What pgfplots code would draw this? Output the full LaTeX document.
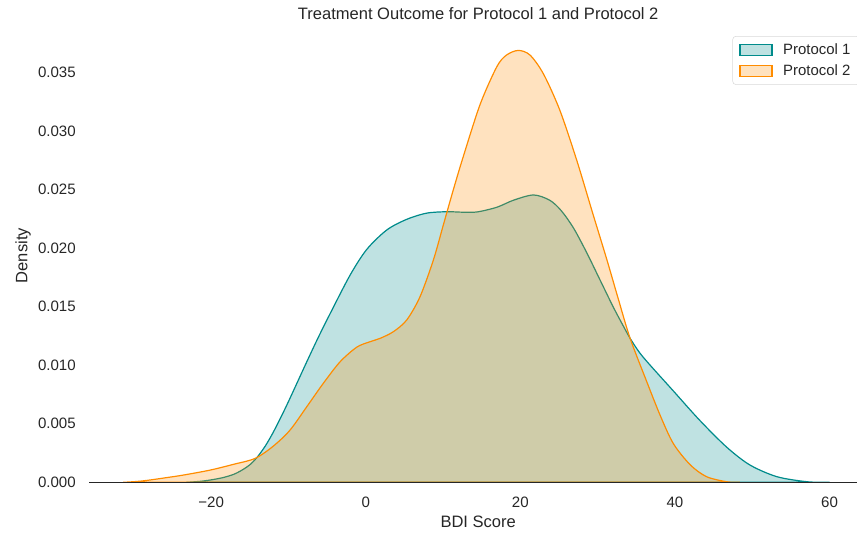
\documentclass[border=0pt]{standalone}
\usepackage{fontspec}
\setmainfont{Liberation Sans}
\usepackage{pgfplots}
\pgfplotsset{compat=1.18}
\definecolor{pteal}{HTML}{008B8B}
\definecolor{porange}{HTML}{FF8C00}
\definecolor{txt}{HTML}{262626}

\pgfplotstableread{
x y
-23.2 0
-21.5 0.00008
-20.1 0.0002
-18.5 0.0004
-17.1 0.00068
-16.0 0.00105
-15.0 0.0015
-14.1 0.0021
-13.0 0.0031
-11.95 0.0043
-10.8 0.0058
-9.79 0.0072
-7.63 0.0103
-6.13 0.0124
-4.62 0.0144
-2.03 0.0177
0.13 0.0199
2.72 0.02156
5.3 0.02247
7.9 0.0230
10.5 0.02312
12.5 0.02308
14.4 0.0231
16.95 0.0235
19.1 0.0241
21.7 0.02455
23.8 0.0241
25.3 0.0232
26.9 0.0217
28.6 0.0196
30.3 0.0173
32.0 0.0150
33.2 0.0135
34.2 0.0123
35.4 0.0111
36.8 0.0100
39.8 0.0078
43.2 0.0053
46.7 0.0030
49.7 0.00148
53.2 0.00048
57.1 0.00005
60.0 0
}\protA

\pgfplotstableread{
x y
-31.4 0
-29.5 0.00008
-27.9 0.0002
-25.8 0.0004
-23.6 0.00062
-20.1 0.00105
-17.1 0.00154
-14.3 0.00205
-11.95 0.0031
-9.79 0.00447
-7.63 0.00646
-5.49 0.00846
-3.32 0.0103
-1.16 0.01155
0.5 0.0120
1.85 0.0123
3.57 0.01287
5.3 0.01387
7.02 0.01586
8.75 0.0190
10.04 0.0220
11.33 0.0250
12.6 0.0278
14.8 0.0323
16.95 0.0355
18.2 0.0365
19.74 0.0369
21.25 0.0365
22.98 0.0349
25.1 0.0318
27.3 0.0275
29.4 0.0229
31.2 0.0190
32.7 0.0156
34.2 0.0123
36.35 0.0086
38.1 0.0057
39.8 0.0033
42.0 0.00148
44.1 0.00048
46.7 0.00005
48.4 0
}\protB

\begin{document}
\begin{tikzpicture}
\begin{axis}[
  at={(0,0)}, anchor=south west,
  scale only axis, width=583.3pt, height=340pt,
  xmin=-35.76, xmax=64.85, ymin=0, ymax=0.03873,
  axis x line=bottom, axis y line=left,
  x axis line style={-, line width=1pt, color=txt},
  y axis line style={draw=none},
  axis on top=true,
  scaled y ticks=false, scaled x ticks=false,
  major tick length=0pt, tick style={draw=none},
  xtick={-20,0,20,40,60}, xticklabels={−20,0,20,40,60},
  ytick={0,0.005,0.01,0.015,0.02,0.025,0.03,0.035},
  yticklabels={0.000,0.005,0.010,0.015,0.020,0.025,0.030,0.035},
  every tick label/.append style={font=\fontsize{11.3}{13.5}\selectfont, text=txt},
  yticklabel style={anchor=east, inner sep=0pt, xshift=-10pt},
  xticklabel style={anchor=north, inner sep=0pt, yshift=-10.5pt},
  xlabel={BDI Score}, ylabel={Density},
  xlabel style={at={(axis description cs:0.5,-0.0868)}, anchor=center, font=\fontsize{12.4}{14}\selectfont, text=txt},
  ylabel style={at={(axis description cs:-0.0852,0.5)}, anchor=center, font=\fontsize{12.4}{14}\selectfont, text=txt},
  title={Treatment Outcome for Protocol 1 and Protocol 2},
  every axis title shift=0pt,
  title style={at={(axis description cs:0.5,1.033)}, anchor=center, font=\fontsize{12.4}{14}\selectfont, text=txt},
  legend style={at={(1,1)}, anchor=north east, xshift=-5.25pt, yshift=-5.25pt,
    draw=black!15, rounded corners=2.5pt, fill=white, fill opacity=0.8, text opacity=1,
    font=\fontsize{11.2}{13.5}\selectfont, text=txt, inner xsep=5pt, inner ysep=3.5pt,
    row sep=2pt, cells={anchor=west}},
  legend image code/.code={\draw[#1, sharp corners] (0pt,-4pt) rectangle (24pt,4pt); \path (30pt,0pt);},
]
\addplot[draw=pteal, fill=pteal, fill opacity=0.25, line width=0.9pt, smooth] table[x=x,y=y] {\protA} \closedcycle;
\addlegendentry{Protocol 1}
\addplot[draw=porange, fill=porange, fill opacity=0.25, line width=0.9pt, smooth] table[x=x,y=y] {\protB} \closedcycle;
\addlegendentry{Protocol 2}
\end{axis}
\pgfresetboundingbox
\useasboundingbox (-67pt,-38pt) rectangle (575.75pt,361.75pt);
\end{tikzpicture}
\end{document}
